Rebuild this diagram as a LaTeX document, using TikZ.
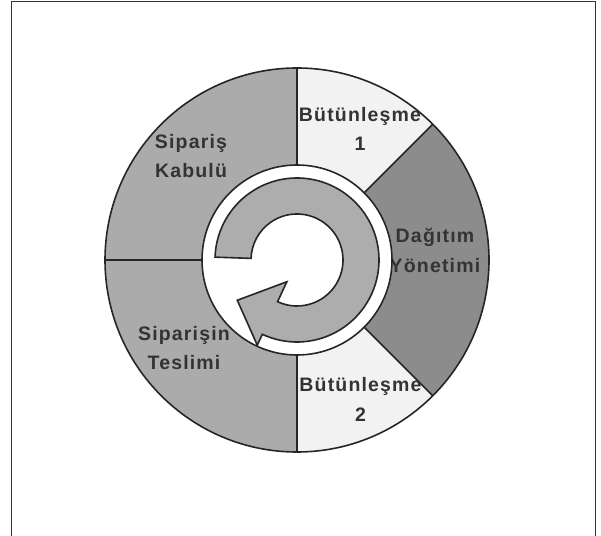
\documentclass[tikz,border=0pt]{standalone}
\usepackage{fontspec}
\setmainfont{Liberation Sans}
\newfontfamily\segfont[LetterSpace=6]{Liberation Sans}
\usetikzlibrary{calc}

\definecolor{quadgray}{gray}{0.67}
\definecolor{distgray}{gray}{0.55}
\definecolor{palegray}{gray}{0.95}
\definecolor{loopgray}{gray}{0.68}

\begin{document}
\begin{tikzpicture}[x=1pt,y=1pt,
  rim/.style={draw=black!85,line width=1.6pt},
  frame/.style={draw=black!80,line width=1.5pt},
  lbl/.style={font=\fontsize{19.5}{29.5}\selectfont\segfont\bfseries,align=center,
    inner sep=1pt,text=black!80}]
\useasboundingbox (0,0) rectangle (601,535);
\draw[frame] (11.5,-2) -- (11.5,533.3) -- (595.7,533.3) -- (595.7,-2);
\coordinate (c) at (297,275);
\begin{scope}[shift={(c)}]
% segments
\fill[quadgray] (0,0) -- (90:192) arc (90:270:192) -- cycle;
\fill[palegray] (0,0) -- (45:192) arc (45:90:192) -- cycle;
\fill[distgray] (0,0) -- (-45:192) arc (-45:45:192) -- cycle;
\fill[palegray] (0,0) -- (-90:192) arc (-90:-45:192) -- cycle;
\foreach \a in {90,180,270,45,-45}
  \draw[rim] (\a:95) -- (\a:192);
\draw[rim] (0,0) circle (192);
% labels
\node[lbl] (kabul) at (-106,104) {Sipariş\\Kabulü};
\node[lbl] (teslim) at (-113,-88) {Siparişin\\Teslimi};
\node[lbl] (butun1) at (63,131) {Bütünleşme\\1};
\node[lbl] (butun2) at (63.5,-139.5) {Bütünleşme\\2};
\node[lbl] (dagitim) at (138,9.5) {Dağıtım\\Yönetimi};
% centre ring and loop arrow
\draw[rim,fill=white] (0,0) circle (95);
\filldraw[rim,fill=loopgray] (178:82) arc (178:-115:82) -- (-115:94)
  -- (-146:72) -- (-115:24) -- (-115:46) arc (-115:178:46) -- cycle;
\end{scope}
\end{tikzpicture}
\end{document}
